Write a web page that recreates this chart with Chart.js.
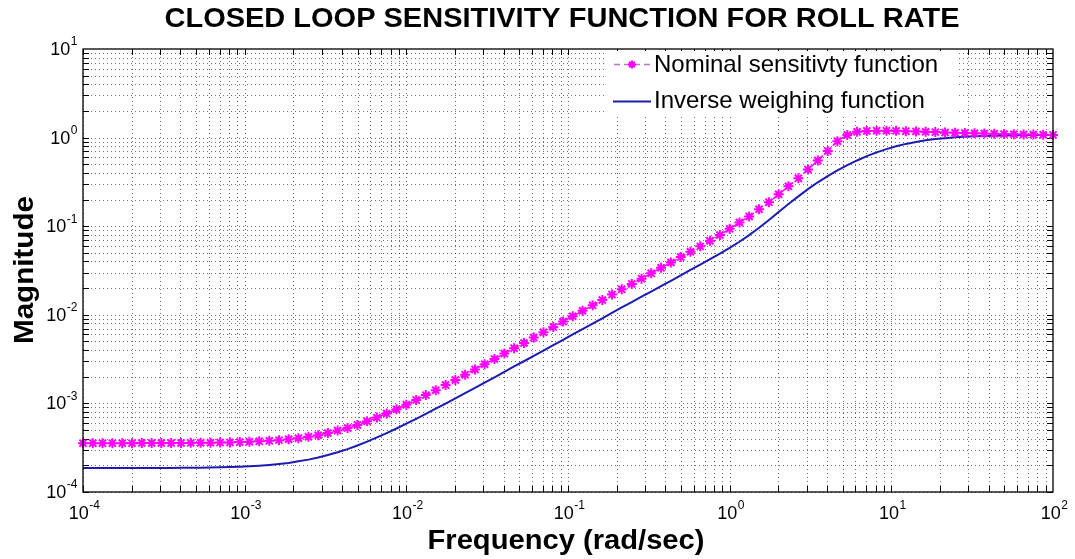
<!DOCTYPE html>
<html>
<head>
<meta charset="utf-8">
<script src="https://cdn.jsdelivr.net/npm/chart.js@4.4.1/dist/chart.umd.min.js"></script>
<style>
  html, body { margin: 0; padding: 0; background: #fff; }
  canvas { display: block; }
</style>
</head>
<body>
<canvas id="sensChart" width="1075" height="559"></canvas>
<script>
// frequency points (rad/sec), log spaced 1e-4 .. 1e2
const freq = [
    1.00e-4, 1.15e-4, 1.32e-4, 1.52e-4, 1.75e-4, 2.01e-4, 2.31e-4, 2.66e-4, 3.05e-4, 3.51e-4,
    4.04e-4, 4.64e-4, 5.34e-4, 6.14e-4, 7.05e-4, 8.11e-4, 9.33e-4, 1.07e-3, 1.23e-3, 1.42e-3,
    1.63e-3, 1.87e-3, 2.15e-3, 2.48e-3, 2.85e-3, 3.27e-3, 3.76e-3, 4.33e-3, 4.98e-3, 5.72e-3,
    6.58e-3, 7.56e-3, 8.70e-3, 0.0100, 0.0115, 0.0132, 0.0152, 0.0175, 0.0201, 0.0231,
    0.0266, 0.0305, 0.0351, 0.0404, 0.0464, 0.0534, 0.0614, 0.0705, 0.0811, 0.0933,
    0.107, 0.123, 0.142, 0.163, 0.187, 0.215, 0.248, 0.285, 0.327, 0.376,
    0.433, 0.498, 0.572, 0.658, 0.756, 0.870, 1.00, 1.15, 1.32, 1.52,
    1.75, 2.01, 2.31, 2.66, 3.05, 3.51, 4.04, 4.64, 5.34, 6.14,
    7.05, 8.11, 9.33, 10.7, 12.3, 14.2, 16.3, 18.7, 21.5, 24.8,
    28.5, 32.7, 37.6, 43.3, 49.8, 57.2, 65.8, 75.6, 87.0, 100
];

// nominal sensitivity |S|
const nominalS = [
    3.56e-4, 3.56e-4, 3.56e-4, 3.56e-4, 3.56e-4, 3.56e-4, 3.57e-4, 3.57e-4, 3.57e-4, 3.57e-4,
    3.58e-4, 3.585e-4, 3.59e-4, 3.60e-4, 3.615e-4, 3.63e-4, 3.66e-4, 3.69e-4, 3.73e-4, 3.78e-4,
    3.85e-4, 3.94e-4, 4.05e-4, 4.20e-4, 4.37e-4, 4.63e-4, 4.93e-4, 5.27e-4, 5.72e-4, 6.27e-4,
    6.91e-4, 7.68e-4, 8.59e-4, 9.68e-4, 1.094e-3, 1.24e-3, 1.41e-3, 1.61e-3, 1.84e-3, 2.11e-3,
    2.42e-3, 2.77e-3, 3.18e-3, 3.65e-3, 4.20e-3, 4.81e-3, 5.53e-3, 6.34e-3, 7.30e-3, 8.39e-3,
    9.64e-3, 0.0111, 0.0128, 0.0147, 0.0169, 0.0194, 0.0223, 0.0256, 0.0294, 0.0339,
    0.0389, 0.0448, 0.0515, 0.0592, 0.0684, 0.0794, 0.0933, 0.110, 0.129, 0.155,
    0.186, 0.229, 0.282, 0.347, 0.437, 0.550, 0.708, 0.912, 1.072, 1.161,
    1.189, 1.197, 1.197, 1.191, 1.183, 1.175, 1.164, 1.153, 1.143, 1.135,
    1.127, 1.119, 1.112, 1.104, 1.096, 1.091, 1.086, 1.081, 1.076, 1.072
];

// inverse weighting |1/W|
const inverseW = [
    1.86e-4, 1.86e-4, 1.86e-4, 1.86e-4, 1.86e-4, 1.86e-4, 1.86e-4, 1.87e-4, 1.87e-4, 1.87e-4,
    1.875e-4, 1.88e-4, 1.88e-4, 1.89e-4, 1.90e-4, 1.91e-4, 1.93e-4, 1.95e-4, 1.98e-4, 2.02e-4,
    2.07e-4, 2.13e-4, 2.22e-4, 2.32e-4, 2.45e-4, 2.62e-4, 2.81e-4, 3.05e-4, 3.35e-4, 3.71e-4,
    4.13e-4, 4.62e-4, 5.21e-4, 5.90e-4, 6.70e-4, 7.62e-4, 8.71e-4, 9.95e-4, 1.14e-3, 1.31e-3,
    1.50e-3, 1.72e-3, 1.97e-3, 2.27e-3, 2.61e-3, 2.99e-3, 3.44e-3, 3.94e-3, 4.54e-3, 5.22e-3,
    6.00e-3, 6.90e-3, 7.94e-3, 9.12e-3, 0.0105, 0.0121, 0.0139, 0.0160, 0.0183, 0.0211,
    0.0242, 0.0279, 0.0321, 0.0368, 0.0424, 0.0489, 0.0569, 0.0668, 0.0794, 0.0959,
    0.1175, 0.1445, 0.178, 0.217, 0.262, 0.313, 0.367, 0.426, 0.488, 0.552,
    0.617, 0.681, 0.741, 0.798, 0.849, 0.893, 0.931, 0.962, 0.986, 1.007,
    1.023, 1.035, 1.045, 1.052, 1.057, 1.062, 1.064, 1.067, 1.069, 1.072
];

const xExponents = [-4, -3, -2, -1, 0, 1, 2];
const yExponents = [-4, -3, -2, -1, 0, 1];
const seriesNames = ['Nominal sensitivty function', 'Inverse weighing function'];
const titleText = 'CLOSED LOOP SENSITIVITY FUNCTION FOR ROLL RATE';
const xTitle = 'Frequency (rad/sec)';
const yTitle = 'Magnitude';

const FONT = '"Liberation Sans", Arial, sans-serif';
const MAGENTA = '#ff00ff';
const BLUE = '#1c1cb0';

// draws "10" with a raised exponent
function drawPow(ctx, exp, x, y, align) {
    const base = '10';
    const e = String(exp);
    ctx.font = '18px ' + FONT;
    const wb = ctx.measureText(base).width;
    ctx.font = '12px ' + FONT;
    const we = ctx.measureText(e).width;
    const total = wb + we;
    const left = align === 'right' ? x - total : x - total / 2;
    ctx.textAlign = 'left';
    ctx.textBaseline = 'middle';
    ctx.font = '18px ' + FONT;
    ctx.fillText(base, left, y);
    ctx.font = '12px ' + FONT;
    ctx.fillText(e, left + wb + 0.5, y - 8);
}

// centred text squeezed/stretched to a given width
function fitText(ctx, text, cx, cy, width, font, angle) {
    ctx.save();
    ctx.font = font;
    const w = ctx.measureText(text).width;
    ctx.translate(cx, cy);
    if (angle) ctx.rotate(angle);
    ctx.scale(width / w, 1);
    ctx.textAlign = 'center';
    ctx.textBaseline = 'middle';
    ctx.fillText(text, 0, 0);
    ctx.restore();
}

function drawStar(ctx, x, y, r) {
    ctx.beginPath();
    ctx.moveTo(x - r, y); ctx.lineTo(x + r, y);
    ctx.moveTo(x, y - r); ctx.lineTo(x, y + r);
    const d = r * 0.707;
    ctx.moveTo(x - d, y - d); ctx.lineTo(x + d, y + d);
    ctx.moveTo(x - d, y + d); ctx.lineTo(x + d, y - d);
    ctx.stroke();
}

const matlabFrame = {
    id: 'matlabFrame',
    beforeDatasetsDraw(chart) {
        const ctx = chart.ctx;
        const a = chart.chartArea;
        const xs = chart.scales.x, ys = chart.scales.y;
        ctx.save();
        ctx.strokeStyle = 'rgba(0,0,0,0.55)';
        ctx.lineWidth = 1;
        ctx.setLineDash([1, 3]);
        // vertical grid
        for (let n = -4; n < 2; n++) {
            for (let m = 1; m <= 9; m++) {
                const px = Math.round(xs.getPixelForValue(m * Math.pow(10, n))) + 0.5;
                ctx.beginPath(); ctx.moveTo(px, a.top); ctx.lineTo(px, a.bottom); ctx.stroke();
            }
        }
        // horizontal grid
        for (let n = -4; n < 1; n++) {
            for (let m = 1; m <= 9; m++) {
                const py = Math.round(ys.getPixelForValue(m * Math.pow(10, n))) + 0.5;
                ctx.beginPath(); ctx.moveTo(a.left, py); ctx.lineTo(a.right, py); ctx.stroke();
            }
        }
        ctx.setLineDash([]);
        // inward ticks
        ctx.strokeStyle = '#000';
        for (let n = -4; n < 2; n++) {
            for (let m = 1; m <= 9; m++) {
                const px = Math.round(xs.getPixelForValue(m * Math.pow(10, n))) + 0.5;
                ctx.beginPath();
                ctx.moveTo(px, a.bottom); ctx.lineTo(px, a.bottom - 6);
                ctx.moveTo(px, a.top); ctx.lineTo(px, a.top + 6);
                ctx.stroke();
            }
        }
        for (let n = -4; n < 1; n++) {
            for (let m = 1; m <= 9; m++) {
                const py = Math.round(ys.getPixelForValue(m * Math.pow(10, n))) + 0.5;
                ctx.beginPath();
                ctx.moveTo(a.left, py); ctx.lineTo(a.left + 6, py);
                ctx.moveTo(a.right, py); ctx.lineTo(a.right - 6, py);
                ctx.stroke();
            }
        }
        ctx.restore();
    },
    afterDraw(chart) {
        const ctx = chart.ctx;
        const a = chart.chartArea;
        const xs = chart.scales.x, ys = chart.scales.y;
        ctx.save();
        // axes box
        ctx.strokeStyle = '#000';
        ctx.lineWidth = 1.3;
        ctx.strokeRect(a.left, a.top, a.right - a.left, a.bottom - a.top);

        // tick labels
        ctx.fillStyle = '#000';
        xExponents.forEach(n => drawPow(ctx, n, xs.getPixelForValue(Math.pow(10, n)) + 1, 514, 'center'));
        yExponents.forEach(n => drawPow(ctx, n, 77, ys.getPixelForValue(Math.pow(10, n)) + 1, 'right'));

        // title and axis titles
        const bold = 'bold 27px ' + FONT;
        fitText(ctx, titleText, 562, 20, 795, bold);
        fitText(ctx, xTitle, 566, 542, 277, bold);
        fitText(ctx, yTitle, 26, 270, 148, bold, -Math.PI / 2);

        // legend
        ctx.fillStyle = '#fff';
        ctx.fillRect(604, 51, 354, 66);
        ctx.fillStyle = '#000';
        ctx.textAlign = 'left';
        ctx.textBaseline = 'middle';
        ctx.font = '24px ' + FONT;
        ctx.fillText(seriesNames[0], 654, 65);
        ctx.fillText(seriesNames[1], 654, 101);

        ctx.strokeStyle = '#c070c0';
        ctx.lineWidth = 1.5;
        ctx.setLineDash([6, 4]);
        ctx.beginPath(); ctx.moveTo(614, 64.5); ctx.lineTo(651, 64.5); ctx.stroke();
        ctx.setLineDash([]);
        ctx.strokeStyle = MAGENTA;
        ctx.lineWidth = 2;
        drawStar(ctx, 632, 64.5, 4);

        ctx.strokeStyle = BLUE;
        ctx.lineWidth = 2;
        ctx.beginPath(); ctx.moveTo(613, 101.5); ctx.lineTo(651, 101.5); ctx.stroke();
        ctx.restore();
    }
};

function renderSensitivityChart() {
    const el = document.getElementById('sensChart');
    new Chart(el, {
        type: 'line',
        data: {
            datasets: [
                {
                    label: seriesNames[0],
                    data: freq.map((f, i) => ({ x: f, y: nominalS[i] })),
                    borderColor: MAGENTA,
                    backgroundColor: MAGENTA,
                    borderWidth: 1.5,
                    borderDash: [6, 4],
                    pointStyle: 'star',
                    pointRadius: 5,
                    pointBorderWidth: 2,
                    pointBorderColor: MAGENTA,
                    tension: 0,
                    clip: false
                },
                {
                    label: seriesNames[1],
                    data: freq.map((f, i) => ({ x: f, y: inverseW[i] })),
                    borderColor: BLUE,
                    borderWidth: 2,
                    pointRadius: 0,
                    tension: 0
                }
            ]
        },
        options: {
            responsive: false,
            animation: false,
            devicePixelRatio: 1,
            layout: { padding: { left: 83, right: 22, top: 49, bottom: 67 } },
            plugins: {
                legend: { display: false },
                title: { display: false },
                tooltip: { enabled: false }
            },
            scales: {
                x: { type: 'logarithmic', min: 1e-4, max: 1e2, display: false },
                y: { type: 'logarithmic', min: 1e-4, max: 1e1, display: false }
            }
        },
        plugins: [matlabFrame]
    });
}

renderSensitivityChart();
</script>
</body>
</html>
